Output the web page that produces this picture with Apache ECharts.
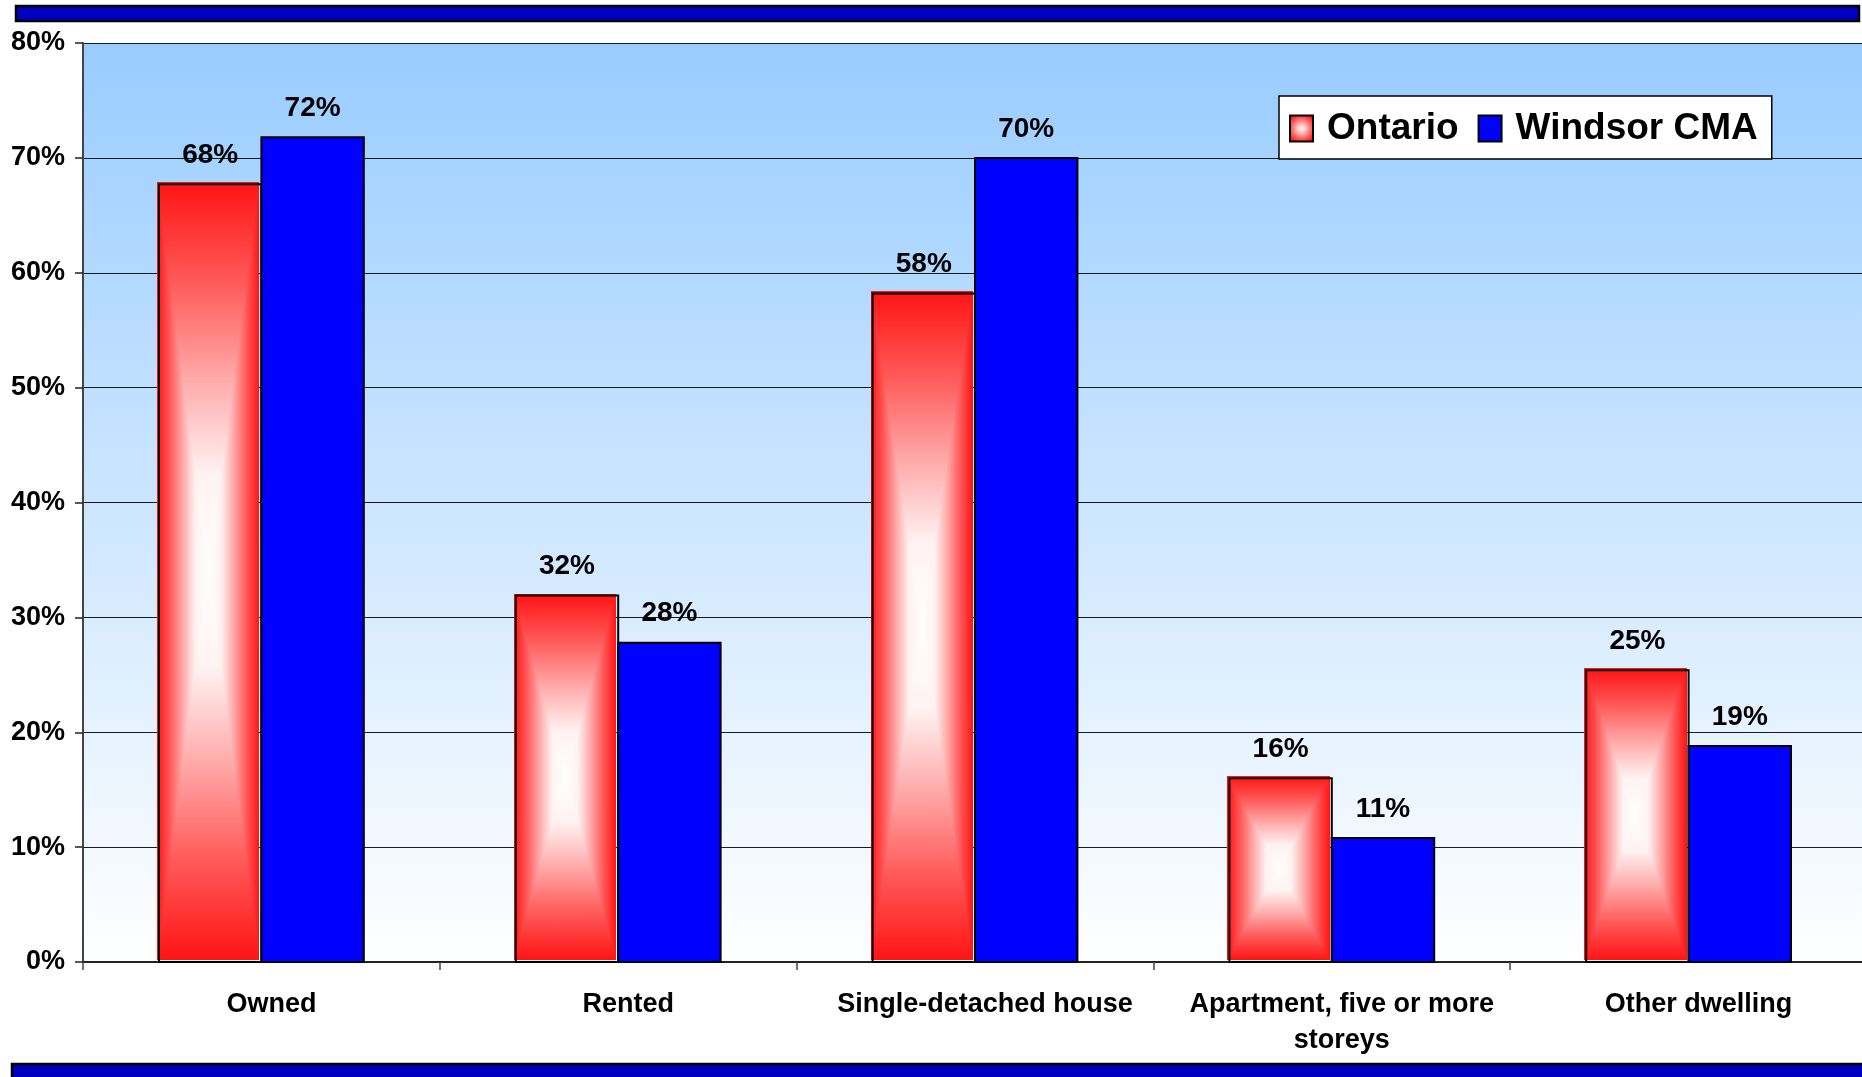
<!DOCTYPE html>
<html>
<head>
<meta charset="utf-8">
<script src="https://cdn.jsdelivr.net/npm/echarts@6/dist/echarts.min.js"></script>
<style>
html,body{margin:0;padding:0;background:#fff;}
#chart{width:1862px;height:1077px;}
</style>
</head>
<body>
<div id="chart"></div>
<script>
// ---- data ----
const categories = ['Owned', 'Rented', 'Single-detached house', 'Apartment, five or more\nstoreys', 'Other dwelling'];
const ontario = [67.7, 31.9, 58.2, 16.0, 25.4];
const windsor = [71.8, 27.8, 70.0, 10.8, 18.8];
const yTicks = { min: 0, max: 80, interval: 10 };

// ---- style ----
const FONT = "'Liberation Sans', Arial, sans-serif";
const BAR_FRACTION = 0.287;
const RED_STOPS = [[0, '#FFFFFF'], [0.25, '#FFF2F2'], [0.5, '#FFA8A8'], [0.75, '#FF5858'], [1, '#FF1414']];

function rectGradientCanvas(w, h) {
  const c = document.createElement('canvas');
  const W = Math.max(1, Math.round(w)), H = Math.max(1, Math.round(h));
  c.width = W; c.height = H;
  const ctx = c.getContext('2d');
  const cx = W / 2, cy = H / 2;
  const grad = (x0, y0, x1, y1) => {
    const g = ctx.createLinearGradient(x0, y0, x1, y1);
    RED_STOPS.forEach(s => g.addColorStop(s[0], s[1]));
    return g;
  };
  ctx.fillStyle = grad(cx, 0, 0, 0); ctx.fillRect(0, 0, Math.ceil(cx), H);
  ctx.fillStyle = grad(cx, 0, W, 0); ctx.fillRect(Math.floor(cx), 0, W - Math.floor(cx), H);
  ctx.fillStyle = grad(0, cy, 0, 0);
  ctx.beginPath(); ctx.moveTo(0, 0); ctx.lineTo(W, 0); ctx.lineTo(cx, cy); ctx.closePath(); ctx.fill();
  ctx.fillStyle = grad(0, cy, 0, H);
  ctx.beginPath(); ctx.moveTo(0, H); ctx.lineTo(W, H); ctx.lineTo(cx, cy); ctx.closePath(); ctx.fill();
  return c;
}

function makeRenderer(side) {
  return function (params, api) {
    const idx = api.value(0), val = api.value(1);
    const base = api.coord([idx, 0]);
    const top = api.coord([idx, val]);
    const band = api.size([1, 0])[0];
    const w = band * BAR_FRACTION;
    const x = side === 0 ? base[0] - w : base[0];
    const y = top[1], h = base[1] - top[1];
    const children = [];
    if (side === 0) {
      children.push({ type: 'image', style: { image: rectGradientCanvas(w, h), x: x - 2, y: y - 2, width: w, height: h } });
      children.push({ type: 'rect', shape: { x: x, y: y, width: w, height: h }, style: { fill: null, stroke: '#000', lineWidth: 2 } });
    } else {
      children.push({ type: 'rect', shape: { x: x, y: y, width: w, height: h }, style: { fill: '#0000FF', stroke: '#000', lineWidth: 2 } });
    }
    children.push({
      type: 'text',
      style: {
        text: Math.round(val) + '%', x: x + w / 2, y: y - 15,
        align: 'center', verticalAlign: 'bottom',
        font: 'bold 28px ' + FONT, fill: '#000'
      }
    });
    return { type: 'group', children: children };
  };
}

const chart = echarts.init(document.getElementById('chart'), null, { renderer: 'canvas' });
chart.setOption({
  animation: false,
  backgroundColor: '#fff',
  graphic: [
    { type: 'rect', shape: { x: 16, y: 6, width: 1843, height: 15 }, style: { fill: '#0000C0', stroke: '#000', lineWidth: 2.5 }, z: 100 },
    { type: 'rect', shape: { x: 12, y: 1064, width: 1860, height: 20 }, style: { fill: '#0000C0', stroke: '#000', lineWidth: 2.5 }, z: 100 }
  ],
  grid: {
    left: 83, top: 43, bottom: 115, right: -5,
    outerBoundsMode: 'none',
    show: true, borderWidth: 0,
    backgroundColor: { type: 'linear', x: 0, y: 0, x2: 0, y2: 1, colorStops: [{ offset: 0, color: '#99CCFF' }, { offset: 1, color: '#FFFFFF' }] }
  },
  legend: {
    left: 1279, top: 96,
    padding: [14, 14, 12, 10],
    itemGap: 19, itemWidth: 23, itemHeight: 26,
    backgroundColor: '#fff', borderColor: '#000', borderWidth: 1.5,
    textStyle: { fontFamily: FONT, fontWeight: 'bold', fontSize: 37, color: '#000', padding: [0, 0, 0, 9] },
    data: [
      { name: 'Ontario', icon: 'rect', itemStyle: { color: { type: 'radial', x: 0.5, y: 0.5, r: 0.6, colorStops: [{ offset: 0, color: '#FFFFFF' }, { offset: 1, color: '#FF1414' }] }, borderColor: '#000', borderWidth: 2 } },
      { name: 'Windsor CMA', icon: 'rect', itemStyle: { color: '#0000FF', borderColor: '#000', borderWidth: 2 } }
    ]
  },
  xAxis: {
    type: 'category',
    data: categories,
    boundaryGap: true,
    axisLine: { show: true, lineStyle: { color: '#222', width: 2 } },
    axisTick: { show: true, length: 8, lineStyle: { color: '#444', width: 1.5 } },
    axisLabel: { interval: 0, margin: 25, fontFamily: FONT, fontWeight: 'bold', fontSize: 27, color: '#000', lineHeight: 36, padding: [0, 0, 0, 20] },
    splitLine: { show: false }
  },
  yAxis: {
    type: 'value',
    min: yTicks.min, max: yTicks.max, interval: yTicks.interval,
    axisLine: { show: true, lineStyle: { color: '#444', width: 2 } },
    axisTick: { show: true, length: 8, lineStyle: { color: '#222', width: 1.5 } },
    axisLabel: { margin: 18, formatter: '{value}%', fontFamily: FONT, fontWeight: 'bold', fontSize: 27, color: '#000' },
    splitLine: { show: true, lineStyle: { color: '#1a1a1a', width: 1 } }
  },
  series: [
    {
      name: 'Ontario', type: 'custom', renderItem: makeRenderer(0),
      itemStyle: { color: '#FF1414' },
      encode: { x: 0, y: 1 },
      data: ontario.map((v, i) => [i, v]), z: 3
    },
    {
      name: 'Windsor CMA', type: 'custom', renderItem: makeRenderer(1),
      itemStyle: { color: '#0000FF' },
      encode: { x: 0, y: 1 },
      data: windsor.map((v, i) => [i, v]), z: 3
    }
  ]
});
</script>
</body>
</html>
